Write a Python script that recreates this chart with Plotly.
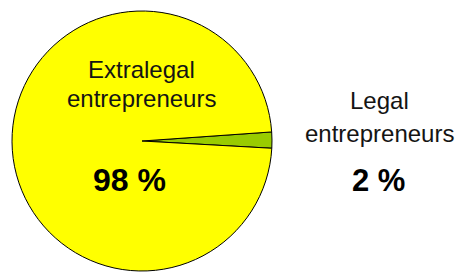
import plotly.graph_objects as go

labels = ["Legal entrepreneurs", "Extralegal entrepreneurs"]
values = [2, 98]
colors = ["#99CC00", "#FFFF00"]

# the page body adds an 8px margin, so the figure is made 8px smaller
OFF = 8
W, H = 466 - OFF, 272 - OFF

def px(x):
    return (x - OFF) / W

def py(y):
    return 1 - (y - OFF) / H

fig = go.Figure(go.Pie(
    labels=labels,
    values=values,
    sort=False,
    direction="clockwise",
    rotation=86,
    marker=dict(colors=colors, line=dict(color="#000000", width=1)),
    textinfo="none",
    hoverinfo="label+percent",
    showlegend=False,
    domain=dict(x=[px(12), px(272)], y=[0, py(10)]),
))

font_name = "Arial, Liberation Sans, sans-serif"
# per label: x centre, centre y of each name line, name size, percent position/size
label_pos = {
    "Extralegal entrepreneurs": dict(x=141, ys=[69.5, 98.5], size=24, px_=129, py_=180, psize=32),
    "Legal entrepreneurs": dict(x=379, ys=[100.5, 133.5], size=24, px_=378, py_=180, psize=31),
}

for lab, val in zip(labels, values):
    p = label_pos[lab]
    for word, yy in zip(lab.split(" "), p["ys"]):
        fig.add_annotation(
            x=px(p["x"]), y=py(yy), xref="paper", yref="paper",
            text=word, showarrow=False,
            xanchor="center", yanchor="middle", align="center",
            font=dict(family=font_name, size=p["size"], color="#141414"),
        )
    fig.add_annotation(
        x=px(p["px_"]), y=py(p["py_"]), xref="paper", yref="paper",
        text=f"<b>{val} %</b>", showarrow=False,
        xanchor="center", yanchor="middle",
        font=dict(family=font_name, size=p["psize"], color="#000000"),
    )

fig.update_layout(
    width=W, height=H,
    margin=dict(l=0, r=0, t=0, b=0),
    paper_bgcolor="white",
    plot_bgcolor="white",
)

fig.write_html("out.html")
